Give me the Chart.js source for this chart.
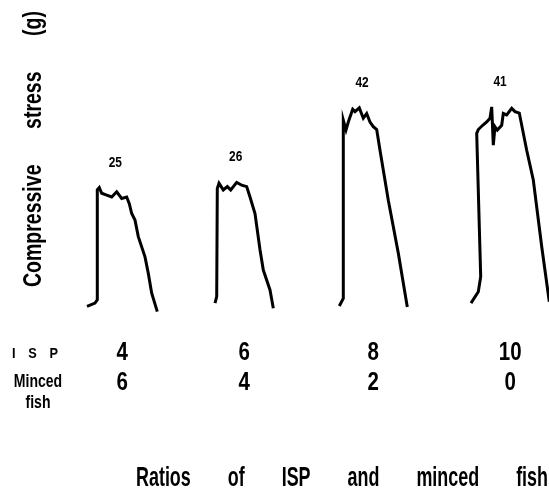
<!DOCTYPE html>
<html>
<head>
<meta charset="utf-8">
<script src="https://cdn.jsdelivr.net/npm/chart.js@4.4.1/dist/chart.umd.min.js"></script>
<style>
  html, body { margin: 0; padding: 0; background: #fff; }
</style>
</head>
<body>
<canvas id="stressChart" width="549" height="493"></canvas>
<script>
// Compressive stress traces: [deformation (arbitrary units), stress (g)]
const trace4to6 = [
    [2, -0.3], [10, 0.4], [12.3, 1.1], [12.3, 24.4], [14.3, 24.9], [16.7, 23.7],
    [21.7, 23.3], [26.7, 22.9], [31.7, 24.0], [36.7, 22.6], [41.7, 22.9], [44.3, 21.5],
    [46.7, 19.4], [50, 18.0], [53.3, 14.5], [60, 10.2], [63.3, 6.7], [66.7, 2.5], [72.3, -1.4]
];
const trace6to4 = [
    [130, 0.4], [131.7, 1.8], [132.3, 24.7], [134, 25.8], [138.3, 24.4], [142.3, 25.1],
    [145.7, 24.4], [151.7, 26.0], [156.7, 25.4], [161.7, 25.1], [165, 22.9], [170, 19.4],
    [175, 11.7], [178.3, 7.4], [185, 3.2], [188.3, -0.7]
];
const trace8to2 = [
    [254.3, -0.2], [258.3, 1.4], [258.3, 39.2], [261, 37.1], [263.3, 38.8], [267.7, 41.5],
    [270, 41.0], [274.3, 41.8], [278.3, 39.6], [281.7, 40.6], [285, 38.8], [288.3, 37.8],
    [291.7, 37.2], [295, 32.8], [303.3, 22.2], [313.3, 11.0], [322.3, -0.4]
];
const trace10to0 = [
    [386, 0.4], [393.3, 2.8], [395.7, 6.0], [391.7, 36.4], [393.3, 37.2], [397.7, 38.1],
    [401.7, 38.8], [405, 39.6], [406.7, 42.0], [408.3, 33.9], [410, 37.8], [412.3, 37.1],
    [416.7, 38.1], [418.3, 40.6], [421.7, 40.3], [426.7, 41.7], [430, 41.0], [434.3, 40.7],
    [441.7, 32.8], [448.3, 26.5], [456.7, 12.4], [464.3, 0.7]
];

const ispParts = [4, 6, 8, 10];
const mincedParts = [6, 4, 2, 0];
const peakStress = [25, 26, 42, 41];

const traces = [trace4to6, trace6to4, trace8to2, trace10to0];
const FONT = '"Liberation Sans", Arial, sans-serif';

// condensed text: squeeze the glyphs horizontally
function narrowText(ctx, text, x, y, sx, align) {
    ctx.save();
    ctx.translate(x, y);
    ctx.scale(sx, 1);
    ctx.textAlign = align || 'center';
    ctx.fillText(text, 0, 0);
    ctx.restore();
}

// words spread evenly between x0 and x1
function spreadWords(ctx, words, x0, x1, yPos, sx) {
    const widths = words.map(w => ctx.measureText(w).width * sx);
    const total = widths.reduce((a, b) => a + b, 0);
    const gap = (x1 - x0 - total) / (words.length - 1);
    let cx = x0;
    words.forEach((w, i) => {
        narrowText(ctx, w, cx, yPos, sx, 'left');
        cx += widths[i] + gap;
    });
}

const figureText = {
    id: 'figureText',
    afterDatasetsDraw(chart) {
        const { ctx, scales: { x, y } } = chart;
        ctx.save();
        ctx.fillStyle = '#000';
        ctx.textBaseline = 'alphabetic';

        traces.forEach((pts, i) => {
            const xs = pts.map(p => p[0]);
            const top = Math.max(...pts.map(p => p[1]));
            const plateau = pts.filter(p => p[1] > top * 0.85).map(p => p[0]);
            const peakX = x.getPixelForValue((Math.min(...plateau) + Math.max(...plateau)) / 2) + 2;
            const midX = x.getPixelForValue((Math.min(...xs) + Math.max(...xs)) / 2);

            ctx.font = 'bold 14px ' + FONT;
            narrowText(ctx, String(peakStress[i]), peakX, y.getPixelForValue(top) - 21, 0.85);

            ctx.font = 'bold 25px ' + FONT;
            narrowText(ctx, String(ispParts[i]), midX, 360, 0.82);
            narrowText(ctx, String(mincedParts[i]), midX, 390, 0.82);
        });

        // row labels
        ctx.font = 'bold 15px ' + FONT;
        spreadWords(ctx, ['I', 'S', 'P'], 12, 58, 358, 0.85);
        ctx.font = 'bold 18px ' + FONT;
        narrowText(ctx, 'Minced', 38, 387, 0.78);
        narrowText(ctx, 'fish', 38, 408, 0.78);

        // x title
        ctx.font = 'bold 28px ' + FONT;
        spreadWords(ctx, ['Ratios', 'of', 'ISP', 'and', 'minced', 'fish'], 136, 548, 486, 0.64);

        // y title
        ctx.translate(41, 149);
        ctx.rotate(-Math.PI / 2);
        ctx.font = 'bold 25px ' + FONT;
        spreadWords(ctx, ['Compressive', 'stress', '(g)'], -138, 138, 0, 0.78);
        ctx.restore();
    }
};

const datasets = traces.map((pts, i) => ({
    label: ispParts[i] + ':' + mincedParts[i],
    data: pts.map(p => ({ x: p[0], y: p[1] })),
    showLine: true,
    borderColor: '#000',
    borderWidth: 3,
    pointRadius: 0,
    tension: 0,
    clip: false
}));

new Chart(document.getElementById('stressChart'), {
    type: 'scatter',
    data: { datasets },
    options: {
        responsive: false,
        animation: false,
        layout: { padding: { left: 85, right: 0, top: 22, bottom: 188 } },
        scales: {
            x: { type: 'linear', min: 0, max: 464, display: false },
            y: { min: 0, max: 60, display: false }
        },
        plugins: { legend: { display: false }, tooltip: { enabled: false } }
    },
    plugins: [figureText]
});
</script>
</body>
</html>
